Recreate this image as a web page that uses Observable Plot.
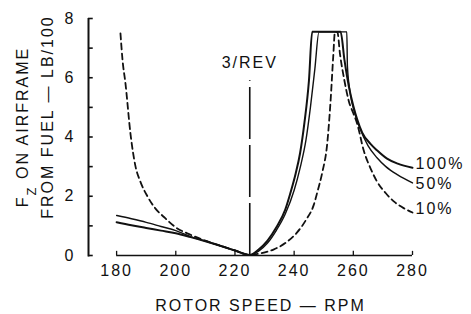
<!DOCTYPE html>
<html><head><meta charset="utf-8">
<script src="https://cdn.jsdelivr.net/npm/d3@7"></script>
<script src="https://cdn.jsdelivr.net/npm/@observablehq/plot@0.6"></script>
<style>body{margin:0;background:#fff}</style>
</head><body><div id="chart"></div>
<script>
// ---- data ----
const xTicks = [180, 200, 220, 240, 260, 280];
const yMinorTicks = [0, 1, 2, 3, 4, 5, 6, 7, 8];
const yTickLabels = [0, 2, 4, 6, 8];
const xAxisStart = 170.5;           // rpm where the vertical F axis stands
const revRpm = 225;                 // 3/REV
const revTop = 5.9;
const revLabel = "3/REV";
const xTitle = "ROTOR SPEED — RPM";
const yTitle1 = "FZ ON AIRFRAME";
const yTitle2 = "FROM FUEL — LB/100";
const seriesNames = ["100%", "50%", "10%"];

const fuel100 = [[180,1.12],[185,1.02],[190,0.93],[195,0.84],[200,0.75],[205,0.62],[210,0.48],[215,0.33],[220,0.17],[225,0.02],
  [228,0.2],[231,0.5],[234,0.95],[237,1.55],[239,2.2],[240.5,2.76],[242,3.45],[243.5,4.5],[245,5.9],[246.1,7.55],
  [255.7,7.55],[257,6.6],[258.5,5.7],[260,5.05],[261.3,4.6],[263,4.15],[265.8,3.77],[268,3.55],[271.4,3.27],[275,3.1],[280,2.96]];
const fuel50 = [[180,1.35],[185,1.24],[190,1.12],[195,0.98],[200,0.84],[205,0.64],[210,0.49],[215,0.33],[220,0.17],[225,0.02],
  [228,0.15],[231,0.42],[234,0.85],[237,1.4],[240,2.2],[242,2.95],[244,3.9],[245.5,5.0],[247,6.3],[248.4,7.55],
  [257.8,7.55],[258,6.4],[259,5.45],[260.5,4.8],[262,4.35],[265,3.7],[268,3.3],[271,3.0],[275,2.72],[280,2.45]];
const fuel10 = [[181.3,7.5],[182,6.6],[183,5.8],[184.7,4.1],[186.4,3.0],[188,2.5],[190.4,2.0],[193,1.6],[196,1.3],[200,0.95],[205,0.7],[210,0.5],[215,0.33],[220,0.17],[225,0.02],
  [229,0.08],[233,0.2],[237,0.42],[241,0.78],[244,1.2],[246.6,1.7],[248,2.2],[249.5,2.8],[251.2,3.8],[252.3,5.2],[253.2,6.7],[253.8,7.55],
  [254.6,7.55],[255.5,6.8],[257,5.9],[258.5,5.2],[260,4.8],[261.3,4.45],[263.5,3.55],[266,2.9],[268,2.5],[271,2.1],[274,1.8],[277,1.6],[280,1.45]];

const toRows = (arr, name) => arr.map(([rpm, f]) => ({series: name, rpm, f}));
const rows100 = toRows(fuel100, seriesNames[0]);
const rows50 = toRows(fuel50, seriesNames[1]);
const rows10 = toRows(fuel10, seriesNames[2]);
const allRows = [rows100, rows50, rows10];
const labelShift = [-4, 1, -4];

const font = {fontFamily: "Liberation Sans, Arial, sans-serif", fontSize: 16, fill: "#111"};

const chart = Plot.plot({
  width: 471, height: 314,
  marginLeft: 88, marginRight: 59, marginTop: 18, marginBottom: 59,
  style: {fontFamily: "Liberation Sans, Arial, sans-serif", fontSize: "16px", letterSpacing: "2px", color: "#111", background: "#fff"},
  x: {domain: [xAxisStart, 280]},
  y: {domain: [0, 8]},
  marks: [
    Plot.ruleX([xAxisStart], {y1: -0.05, y2: 8, strokeWidth: 2, stroke: "#111"}),
    Plot.ruleY(yMinorTicks, {y: d => d, x1: xAxisStart, x2: xAxisStart + 1.6, strokeWidth: 1.6, stroke: "#111"}),
    Plot.ruleY([0], {x1: 180, x2: 280, strokeWidth: 1.5, stroke: "#111"}),
    Plot.ruleX(xTicks, {x: d => d, y1: 0, y2: 0.14, strokeWidth: 1.3, stroke: "#111"}),
    Plot.axisX({ticks: xTicks, tickSize: 0, tickPadding: 9, label: null, ...font}),
    Plot.axisY({ticks: yTickLabels, tickSize: 0, tickPadding: 13, label: null, ...font}),
    Plot.ruleX([revRpm], {y1: 0, y2: revTop, strokeWidth: 1.6, stroke: "#111", strokeDasharray: "52,6"}),
    Plot.text([revLabel], {x: revRpm, y: 6.5, text: d => d, ...font}),
    Plot.line(rows10, {x: "rpm", y: "f", curve: "monotone-x", stroke: "#111", strokeWidth: 1.8, strokeDasharray: "6,4"}),
    Plot.line(rows50, {x: "rpm", y: "f", curve: "monotone-x", stroke: "#111", strokeWidth: 1.4}),
    Plot.line(rows100, {x: "rpm", y: "f", curve: "monotone-x", stroke: "#111", strokeWidth: 2}),
    ...allRows.map((r, i) => Plot.text([r[r.length - 1]], {x: "rpm", y: "f", text: "series", textAnchor: "start", dx: 3, dy: labelShift[i], ...font})),
    Plot.text([xTitle], {frameAnchor: "bottom", text: d => d, textAnchor: "middle", lineAnchor: "middle", dx: 10, dy: 50, ...font}),
    Plot.text([yTitle1], {frameAnchor: "left", text: d => d, textAnchor: "middle", lineAnchor: "middle", rotate: -90, dx: -66, dy: -10, ...font}),
    Plot.text([yTitle2], {frameAnchor: "left", text: d => d, textAnchor: "middle", lineAnchor: "middle", rotate: -90, dx: -41, dy: -20, ...font})
  ]
});
document.getElementById("chart").appendChild(chart);

// subscript Z in the F_Z title
d3.select(chart).selectAll("text").each(function() {
  if (this.textContent === yTitle1) {
    const t = d3.select(this);
    t.text("");
    t.append("tspan").text("F");
    t.append("tspan").attr("baseline-shift", "sub").attr("font-size", 13).text("Z");
    t.append("tspan").text(" ON AIRFRAME");
  }
});
</script>
</body></html>
